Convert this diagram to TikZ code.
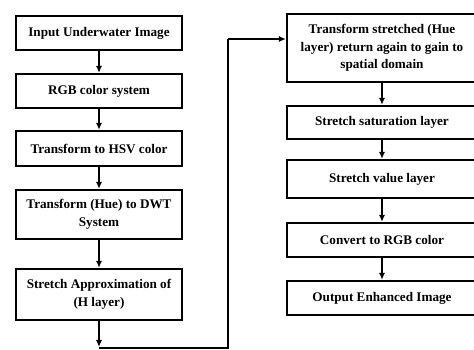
\documentclass[tikz,border=0pt]{standalone}
\usepackage{fontspec}
\setmainfont{Liberation Serif}
\usetikzlibrary{arrows.meta}
\begin{document}
\begin{tikzpicture}[x=0.02cm, y=-0.02cm,
    stepbox/.style={draw, line width=1.3pt, align=center, inner sep=1pt,
        font=\fontsize{7.5}{10}\selectfont\bfseries},
    leftbox/.style={stepbox, minimum width=3.32cm},
    rightbox/.style={stepbox, minimum width=3.8cm},
    flow/.style={line width=1pt, -{Latex[length=4pt, width=3.6pt]}}]
    \useasboundingbox (0, 0) rectangle (474, 350);
    % Left column
    \node[leftbox, minimum height=0.68cm] (input) at (99, 33) {Input Underwater Image};
    \node[leftbox, minimum height=0.68cm] (rgb) at (99, 91) {RGB color system};
    \node[leftbox, minimum height=0.70cm] (hsv) at (99, 148.5) {Transform to HSV color};
    \node[leftbox, minimum height=0.98cm] (dwt) at (99, 214.5) {Transform (Hue) to DWT\\System};
    \node[leftbox, minimum height=1.02cm] (approx) at (99, 294.5) {Stretch Approximation of\\(H layer)};

    % Right column
    \node[rightbox, minimum height=1.36cm] (spatial) at (382, 48) {Transform stretched (Hue\\layer) return again to gain to\\spatial domain};
    \node[rightbox, minimum height=0.66cm] (sat) at (382, 122.5) {Stretch saturation layer};
    \node[rightbox, minimum height=0.76cm] (val) at (382, 179) {Stretch value layer};
    \node[rightbox, minimum height=0.68cm] (torgb) at (382, 240) {Convert to RGB color};
    \node[rightbox, minimum height=0.68cm] (output) at (382, 298) {Output Enhanced Image};

    % Return path
    \path (99, 347) coordinate (turnA);
    \path (228, 348) coordinate (turnB);
    \path (228, 39) coordinate (turnC);

    % Arrows
    \draw[flow] (input) -- (rgb);
    \draw[flow] (rgb) -- (hsv);
    \draw[flow] (hsv) -- (dwt);
    \draw[flow] (dwt) -- (approx);
    \draw[flow] (approx) -- (turnA);
    \draw[line width=1pt] (turnA |- turnB) -- (turnB) -- (turnC);
    \draw[flow] (turnC) -- (turnC -| spatial.west);
    \draw[flow] (spatial) -- (sat);
    \draw[flow] (sat) -- (val);
    \draw[flow] (val) -- (torgb);
    \draw[flow] (torgb) -- (output);
\end{tikzpicture}
\end{document}
